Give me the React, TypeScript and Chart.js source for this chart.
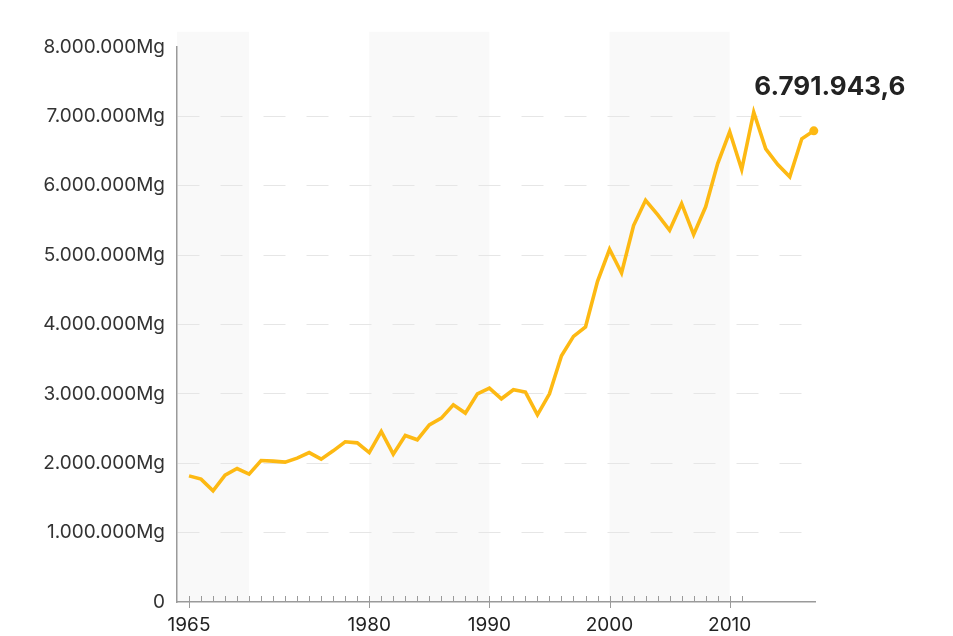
import React, { useEffect, useRef } from 'react';
import { Chart, registerables } from 'chart.js';

Chart.register(...registerables);

const years = [
  1965, 1966, 1967, 1968, 1969, 1970, 1971, 1972, 1973, 1974,
  1975, 1976, 1977, 1978, 1979, 1980, 1981, 1982, 1983, 1984,
  1985, 1986, 1987, 1988, 1989, 1990, 1991, 1992, 1993, 1994,
  1995, 1996, 1997, 1998, 1999, 2000, 2001, 2002, 2003, 2004,
  2005, 2006, 2007, 2008, 2009, 2010, 2011, 2012, 2013, 2014,
  2015, 2016, 2017,
];

const values = [
  1818000, 1771000, 1602000, 1828000, 1924000, 1843000, 2039000, 2030000, 2016000, 2074000,
  2154000, 2059000, 2179000, 2309000, 2294000, 2154000, 2458000, 2131000, 2400000, 2338000,
  2554000, 2651000, 2843000, 2723000, 3001000, 3084000, 2929000, 3059000, 3026000, 2698000,
  3001000, 3550000, 3829000, 3964000, 4622000, 5084000, 4743000, 5426000, 5791000, 5584000,
  5358000, 5743000, 5296000, 5696000, 6320000, 6778000, 6234000, 7061000, 6532000, 6306000,
  6128000, 6677000, 6791943.6,
];

const lastValueLabel = '6.791.943,6';

const yTickValues = [0, 1000000, 2000000, 3000000, 4000000, 5000000, 6000000, 7000000, 8000000];
const xLabelYears = [1965, 1980, 1990, 2000, 2010];
const firstTickYear = 1965;
const lastTickYear = 2011;
const bandStarts = [1960, 1980, 2000];
const bandEnds = [1970, 1990, 2010];
const bandTopValue = 8220000;

const FONT = 'Inter, "Noto Sans", sans-serif';

function fmtThousands(v: number): string {
  return String(Math.round(v)).replace(/\B(?=(\d{3})+(?!\d))/g, '.');
}

export default function App() {
  const ref = useRef<HTMLCanvasElement | null>(null);

  useEffect(() => {
    if (!ref.current) return;
    const tickYears: number[] = [];
    for (let y = firstTickYear; y <= lastTickYear; y++) tickYears.push(y);

    const bandsPlugin = {
      id: 'bands',
      beforeDraw(chart: any) {
        const { ctx, chartArea, scales } = chart;
        const xs = scales.x;
        const ys = scales.y;
        const top = ys.getPixelForValue(bandTopValue);
        ctx.save();
        ctx.fillStyle = '#f9f9f9';
        for (let i = 0; i < bandStarts.length; i++) {
          const x0 = Math.max(chartArea.left, xs.getPixelForValue(bandStarts[i]));
          const x1 = Math.min(chartArea.right, xs.getPixelForValue(bandEnds[i]));
          if (x1 > x0) ctx.fillRect(x0, top, x1 - x0, chartArea.bottom - top);
        }
        ctx.restore();
      },
    };

    const ticksPlugin = {
      id: 'xticks',
      afterDraw(chart: any) {
        const { ctx, chartArea, scales } = chart;
        const xs = scales.x;
        const base = chartArea.bottom;
        ctx.save();
        ctx.strokeStyle = '#9a9a9a';
        ctx.lineWidth = 1;
        for (const yr of tickYears) {
          const px = Math.round(xs.getPixelForValue(yr)) + 0.5;
          const major = xLabelYears.includes(yr);
          ctx.beginPath();
          ctx.moveTo(px, base - 6);
          ctx.lineTo(px, major ? base + 6 : base);
          ctx.stroke();
        }
        ctx.restore();
      },
    };

    const labelPlugin = {
      id: 'lastLabel',
      afterDatasetsDraw(chart: any) {
        const meta = chart.getDatasetMeta(0);
        const pt = meta.data[meta.data.length - 1];
        if (!pt) return;
        const ctx = chart.ctx;
        ctx.save();
        ctx.font = `bold 26px ${FONT}`;
        ctx.fillStyle = '#222222';
        ctx.textAlign = 'center';
        ctx.textBaseline = 'middle';
        ctx.fillText(lastValueLabel, pt.x + 16, pt.y - 44);
        ctx.restore();
      },
    };

    const lastIdx = values.length - 1;
    const chart = new Chart(ref.current, {
      type: 'line',
      data: {
        datasets: [
          {
            data: years.map((yr, i) => ({ x: yr, y: values[i] })),
            borderColor: 'rgb(253,185,19)',
            backgroundColor: 'rgb(253,185,19)',
            borderWidth: 3.6,
            tension: 0,
            clip: false,
            pointRadius: (c: any) => (c.dataIndex === lastIdx ? 4.5 : 0),
            pointBorderWidth: 0,
            pointHoverRadius: 0,
            borderJoinStyle: 'miter',
          },
        ],
      },
      options: {
        animation: false,
        responsive: true,
        maintainAspectRatio: false,
        layout: { padding: { top: 47, right: 138, left: 0, bottom: 0 } },
        plugins: {
          legend: { display: false },
          tooltip: { enabled: false },
        },
        scales: {
          x: {
            type: 'linear',
            min: 1964,
            max: 2017.1,
            afterBuildTicks: (s: any) => {
              s.ticks = tickYears.map((v) => ({ value: v }));
            },
            ticks: {
              autoSkip: false,
              maxRotation: 0,
              minRotation: 0,
              padding: 12,
              color: '#222222',
              font: { family: FONT, size: 19 },
              callback: (v: any) => (xLabelYears.includes(Number(v)) ? String(v) : ''),
            },
            grid: { display: true, drawOnChartArea: false, drawTicks: false },
            border: { display: true, color: '#9a9a9a', width: 1.5 },
            afterFit: (s: any) => {
              s.height = 34;
            },
          },
          y: {
            min: 0,
            max: 8000000,
            afterBuildTicks: (s: any) => {
              s.ticks = yTickValues.map((v) => ({ value: v }));
            },
            ticks: {
              padding: 12,
              color: '#333333',
              font: { family: FONT, size: 19 },
              callback: (v: any) => (Number(v) === 0 ? '0' : fmtThousands(Number(v)) + 'Mg'),
            },
            grid: {
              drawTicks: false,
              lineWidth: 1,
              color: (c: any) =>
                c.tick && (c.tick.value === 0 || c.tick.value === 8000000) ? 'rgba(0,0,0,0)' : '#e6e6e6',
            },
            border: { display: true, color: '#9a9a9a', width: 1.5, dash: [22, 21] },
            afterFit: (s: any) => {
              s.width = 177;
            },
          },
        },
      },
      plugins: [bandsPlugin, ticksPlugin, labelPlugin],
    } as any);

    return () => chart.destroy();
  }, []);

  return (
    <div style={{ position: 'fixed', left: 0, top: 0, width: 953, height: 636, background: '#fff' }}>
      <canvas ref={ref} />
    </div>
  );
}
